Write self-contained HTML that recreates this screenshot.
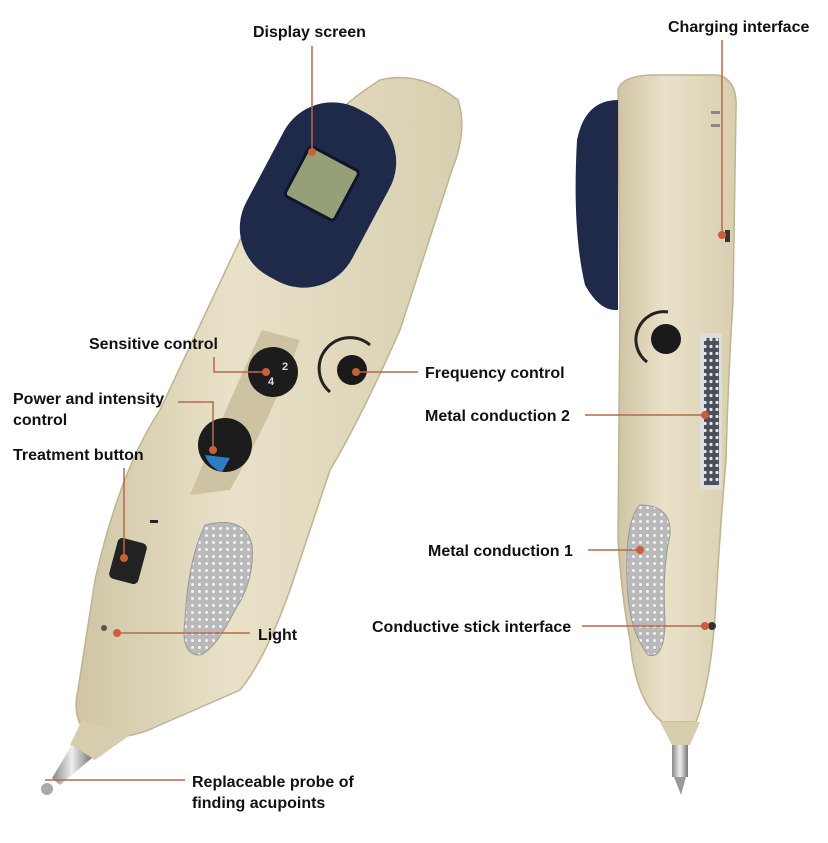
<!DOCTYPE html>
<html><head><meta charset="utf-8"><style>
body{margin:0;background:#fff;}
svg{display:block;}
text{font-family:"Liberation Sans",sans-serif;font-weight:bold;font-size:16px;fill:#111;}
</style></head><body>
<svg width="828" height="843" viewBox="0 0 828 843">
<defs>
<pattern id="dots" width="7" height="7" patternUnits="userSpaceOnUse"><rect width="7" height="7" fill="#b9b9b9"/><circle cx="3.5" cy="3.5" r="1.5" fill="#f2f2f2"/></pattern>
<pattern id="dots2" width="6" height="7" patternUnits="userSpaceOnUse"><rect width="6" height="7" fill="#4a4f5a"/><circle cx="3" cy="3.5" r="1.6" fill="#e8e8e8"/></pattern>
<linearGradient id="bodyL" x1="0" y1="0" x2="1" y2="0"><stop offset="0" stop-color="#cfc5a5"/><stop offset="0.4" stop-color="#e9e1c8"/><stop offset="1" stop-color="#d8cfb0"/></linearGradient>
<linearGradient id="metal" x1="0" y1="0" x2="1" y2="0"><stop offset="0" stop-color="#888"/><stop offset="0.5" stop-color="#eee"/><stop offset="1" stop-color="#777"/></linearGradient>
</defs>

<path d="M380,80 Q420,70 458,100 Q468,130 452,170 L400,330 Q360,420 330,470 L290,590 Q265,660 240,690 L160,725 Q120,745 85,732 Q72,715 78,690 L95,580 Q120,470 160,410 L240,240 Q300,130 380,80 Z" fill="url(#bodyL)" stroke="#bfb392" stroke-width="1.5"/>
<path d="M82,720 L130,735 L95,760 L70,745 Z" fill="#d6ccae"/>
<path d="M72,745 L92,758 L60,785 L52,778 Z" fill="url(#metal)"/>
<circle cx="47" cy="789" r="6" fill="#aaa"/>
<g transform="rotate(28 318 195)">
<rect x="258" y="100" width="120" height="190" rx="55" fill="#1f2a4a"/>
<rect x="288" y="155" width="56" height="56" rx="4" fill="#95a078" stroke="#0f1628" stroke-width="3"/>
</g>
<path d="M262,330 L300,340 Q270,420 230,490 L190,495 Q225,410 262,330 Z" fill="#cdc2a2"/>
<circle cx="273" cy="372" r="25" fill="#1c1c1c"/>
<text x="282" y="370" style="font-size:11px;fill:#ddd">2</text>
<text x="268" y="385" style="font-size:11px;fill:#ddd">4</text>
<circle cx="225" cy="445" r="27" fill="#1c1c1c"/>
<path d="M205,455 A27,27 0 0 0 222,472 L230,458 Z" fill="#2d7ec0"/>
<circle cx="352" cy="370" r="15" fill="#1a1a1a"/>
<path d="M330,392 A30,30 0 0 1 370,345" fill="none" stroke="#222" stroke-width="3"/>
<rect x="113" y="540" width="30" height="42" rx="5" fill="#222" transform="rotate(15 128 561)"/>
<rect x="150" y="520" width="8" height="3" fill="#222"/>
<path d="M205,525 Q245,515 252,545 Q255,580 235,610 Q215,650 200,655 Q180,655 185,620 Q188,560 205,525 Z" fill="url(#dots)" stroke="#999"/>
<circle cx="104" cy="628" r="3" fill="#555"/>

<path d="M618,90 Q622,74 660,75 L718,75 Q738,80 736,110 L733,300 Q728,380 726,460 Q720,530 716,600 Q712,680 696,722 L662,722 Q635,700 630,640 Q622,600 618,540 L620,300 Z" fill="url(#bodyL)" stroke="#bfb392" stroke-width="1.5"/>
<path d="M660,722 L700,722 L690,745 L672,745 Z" fill="#d6ccae"/>
<rect x="672" y="745" width="16" height="32" fill="url(#metal)"/>
<path d="M674,777 L686,777 L681,795 Z" fill="#999"/>
<path d="M618,100 Q585,100 577,140 Q572,230 585,285 Q600,312 618,310 Z" fill="#1f2a4a"/>
<circle cx="666" cy="339" r="15" fill="#1a1a1a"/>
<path d="M647,362 A28,28 0 0 1 668,312" fill="none" stroke="#222" stroke-width="3"/>
<rect x="700" y="333" width="22" height="157" rx="3" fill="#ddd"/>
<rect x="704" y="338" width="15" height="147" fill="url(#dots2)"/>
<path d="M640,505 Q672,505 670,535 Q662,570 665,620 Q665,660 648,655 Q628,630 627,580 Q625,520 640,505 Z" fill="url(#dots)" stroke="#999"/>
<circle cx="712" cy="626" r="4" fill="#333"/>
<rect x="725" y="230" width="5" height="12" fill="#333"/>
<rect x="711" y="111" width="9" height="3" fill="#888"/><rect x="711" y="124" width="9" height="3" fill="#888"/>

<g stroke="#b8694a" stroke-width="1.5" fill="none">
<path d="M312,46 V152"/>
<path d="M722,40 V235"/>
<path d="M214,357 V372 H266"/>
<path d="M178,402 H213 V450"/>
<path d="M124,468 V558"/>
<path d="M356,372 H418"/>
<path d="M585,415 H705"/>
<path d="M588,550 H640"/>
<path d="M582,626 H705"/>
<path d="M117,633 H250"/>
<path d="M45,780 H185"/>
</g>
<g fill="#c8603a">
<circle cx="312" cy="152" r="4"/><circle cx="722" cy="235" r="4"/><circle cx="266" cy="372" r="4"/>
<circle cx="213" cy="450" r="4"/><circle cx="124" cy="558" r="4"/><circle cx="356" cy="372" r="4"/>
<circle cx="705" cy="415" r="4"/><circle cx="640" cy="550" r="4"/><circle cx="705" cy="626" r="4"/>
<circle cx="117" cy="633" r="4"/>
</g>

<text x="253" y="37">Display screen</text>
<text x="668" y="32">Charging interface</text>
<text x="89" y="349">Sensitive control</text>
<text x="13" y="404">Power and intensity</text>
<text x="13" y="425">control</text>
<text x="13" y="460">Treatment button</text>
<text x="425" y="378">Frequency control</text>
<text x="425" y="421">Metal conduction 2</text>
<text x="428" y="556">Metal conduction 1</text>
<text x="372" y="632">Conductive stick interface</text>
<text x="258" y="640">Light</text>
<text x="192" y="787">Replaceable probe of</text>
<text x="192" y="808">finding acupoints</text>
</svg>
</body></html>
